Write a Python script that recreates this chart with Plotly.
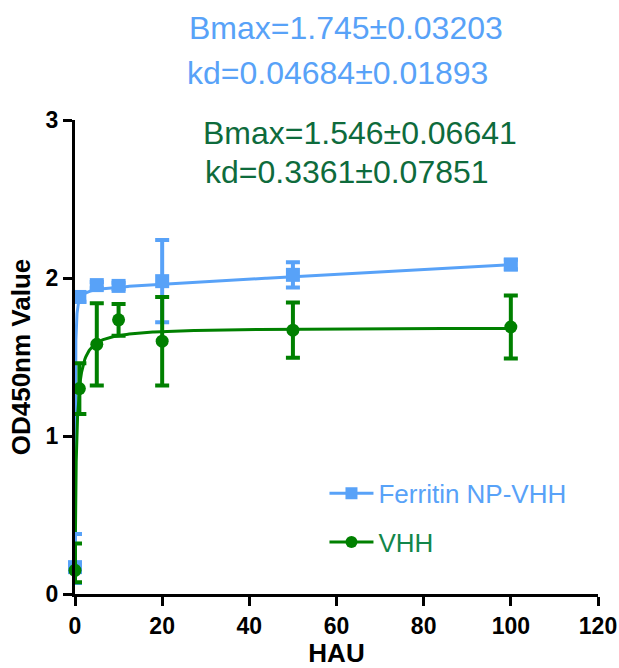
import numpy as np
import plotly.graph_objects as go

# ---- data ----
hau = [0, 1, 5, 10, 20, 50, 100]

ferritin_y = [0.17, 1.88, 1.955, 1.95, 1.98, 2.02, 2.085]
ferritin_err_plus = [0.21, 0.03, 0.02, 0.02, 0.26, 0.08, 0.03]
ferritin_err_minus = [0.10, 0.03, 0.02, 0.02, 0.26, 0.08, 0.03]

vhh_y = [0.15, 1.30, 1.58, 1.735, 1.60, 1.67, 1.69]
vhh_err_plus = [0.17, 0.16, 0.26, 0.10, 0.28, 0.175, 0.20]
vhh_err_minus = [0.075, 0.16, 0.26, 0.10, 0.28, 0.175, 0.20]

# fitted one-site binding parameters (as printed on the chart)
ferritin_bmax, ferritin_kd = 1.745, 0.04684
ferritin_bg, ferritin_ns = 0.19, 0.0015
vhh_bmax, vhh_kd = 1.546, 0.3361
vhh_bg, vhh_ns = 0.14, 0.0

x_ticks = [0, 20, 40, 60, 80, 100, 120]
y_ticks = [0, 1, 2, 3]

BLUE = "#58A2F8"
GREEN = "#008000"
GREEN_TEXT = "#0E6B3C"
GREEN_LEGEND = "#12864A"

xfit = np.concatenate([np.linspace(0, 1, 300), np.linspace(1, 100, 400)])


def one_site(x, bmax, kd, ns, bg):
    return bmax * x / (kd + x) + ns * x + bg


fig = go.Figure()

# fit curves
fig.add_trace(go.Scatter(x=xfit, y=one_site(xfit, ferritin_bmax, ferritin_kd, ferritin_ns, ferritin_bg),
                         mode="lines", line=dict(color=BLUE, width=3), showlegend=False,
                         cliponaxis=False, hoverinfo="skip"))
fig.add_trace(go.Scatter(x=xfit, y=one_site(xfit, vhh_bmax, vhh_kd, vhh_ns, vhh_bg),
                         mode="lines", line=dict(color=GREEN, width=3), showlegend=False,
                         cliponaxis=False, hoverinfo="skip"))

# data points with error bars
fig.add_trace(go.Scatter(x=hau, y=ferritin_y, mode="markers",
                         marker=dict(symbol="square", size=14, color=BLUE),
                         error_y=dict(type="data", array=ferritin_err_plus, arrayminus=ferritin_err_minus,
                                      color=BLUE, thickness=4, width=7),
                         showlegend=False, cliponaxis=False))
fig.add_trace(go.Scatter(x=hau, y=vhh_y, mode="markers",
                         marker=dict(symbol="circle", size=13, color=GREEN),
                         error_y=dict(type="data", array=vhh_err_plus, arrayminus=vhh_err_minus,
                                      color=GREEN, thickness=4, width=7),
                         showlegend=False, cliponaxis=False))

# legend entries
fig.add_trace(go.Scatter(x=[None], y=[None], mode="lines+markers",
                         name=f"<span style='color:{BLUE}'>Ferritin NP-VHH</span>",
                         legendgroup="a",
                         line=dict(color=BLUE, width=3),
                         marker=dict(symbol="square", size=12, color=BLUE)))
fig.add_trace(go.Scatter(x=[None], y=[None], mode="lines+markers",
                         name=f"<span style='color:{GREEN_LEGEND}'>VHH</span>",
                         legendgroup="b",
                         line=dict(color=GREEN, width=3),
                         marker=dict(symbol="circle", size=12, color=GREEN)))

FONT = "Liberation Sans, Arial, sans-serif"

fig.update_layout(
    width=619, height=668,
    margin=dict(l=75, r=21, t=120, b=74),
    paper_bgcolor="white", plot_bgcolor="white",
    font=dict(family=FONT, color="black"),
    showlegend=True,
    legend=dict(x=0.477, y=0.262, xanchor="left", yanchor="top",
                font=dict(family=FONT, size=26), tracegroupgap=12, itemwidth=44,
                bgcolor="rgba(0,0,0,0)"),
    xaxis=dict(range=[0, 120], tickvals=x_ticks, ticktext=[str(v) for v in x_ticks],
               automargin=False, ticklabeloverflow="allow",
               showline=True, linecolor="black", linewidth=3, showgrid=False, zeroline=False,
               ticks="outside", ticklen=9, tickwidth=3, tickcolor="black",
               tickfont=dict(family=FONT, size=23, color="black", weight="bold"),
               title=dict(text="<b>HAU</b>", font=dict(family=FONT, size=26))),
    yaxis=dict(range=[0, 3], tickvals=y_ticks, ticktext=[str(v) for v in y_ticks],
               automargin=False, ticklabeloverflow="allow",
               showline=True, linecolor="black", linewidth=3, showgrid=False, zeroline=False,
               ticks="outside", ticklen=9, tickwidth=3, tickcolor="black",
               tickfont=dict(family=FONT, size=23, color="black", weight="bold"),
               title=dict(text="<b>OD450nm Value</b>", font=dict(family=FONT, size=26), standoff=8)),
)

ann = [
    (f"Bmax={ferritin_bmax}±0.03203", 187, 28, BLUE),
    (f"kd={ferritin_kd}±0.01893", 185, 73, BLUE),
    (f"Bmax={vhh_bmax}±0.06641", 201, 133, GREEN_TEXT),
    (f"kd={vhh_kd}±0.07851", 203, 172, GREEN_TEXT),
]
for text, px, py, col in ann:
    fig.add_annotation(text=text, xref="paper", yref="paper",
                       x=(px - 75) / 523, y=(594 - py) / 474,
                       xanchor="left", yanchor="middle", showarrow=False,
                       font=dict(family=FONT, size=32, color=col))

fig.write_html(
    "out.html",
    config={"displayModeBar": False},
    post_script="document.body.style.margin='0';document.body.style.overflow='hidden';",
)
